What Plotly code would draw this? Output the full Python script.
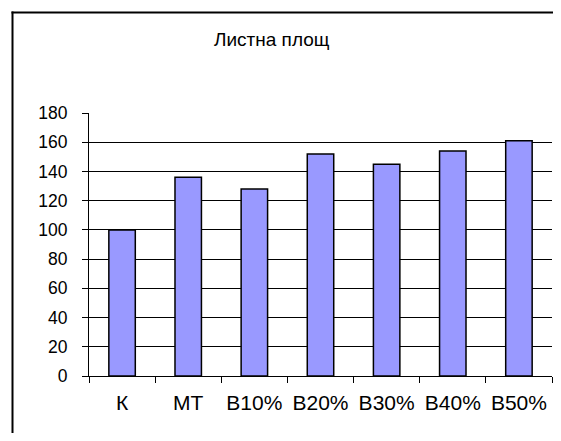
import plotly.graph_objects as go

categories = ["К", "МТ", "В10%", "В20%", "В30%", "В40%", "В50%"]
values = [100, 136, 128, 152, 145, 154, 161]
y_ticks = [0, 20, 40, 60, 80, 100, 120, 140, 160, 180]
title_text = "Листна площ"

# the page body has an 8px margin, so the figure is sized/offset to compensate
W, H = 545, 425
L, R, T, B = 81, 1, 105, 57
PW, PH = W - L - R, H - T - B

fam = "Liberation Sans, Arial, sans-serif"

fig = go.Figure(go.Bar(
    x=categories, y=values,
    marker=dict(color="#9999FF", line=dict(color="black", width=1.5)),
))

fx = lambda px: (px - L) / PW          # figure px -> paper x
fy = lambda py: (H - B - py) / PH      # figure px (from top) -> paper y

fig.update_layout(
    width=W, height=H,
    margin=dict(l=L, r=R, t=T, b=B),
    paper_bgcolor="white", plot_bgcolor="white",
    bargap=0.6,
    showlegend=False,
    font=dict(family=fam, size=17, color="black"),
    annotations=[dict(text=title_text, xref="paper", yref="paper",
                      x=fx(264), y=fy(31),
                      xanchor="center", yanchor="middle", showarrow=False,
                      font=dict(family=fam, size=19, color="black"))],
    shapes=[
        dict(type="line", xref="paper", yref="paper",
             x0=fx(3.5), x1=fx(W), y0=fy(4.5), y1=fy(4.5),
             line=dict(color="black", width=2)),
        dict(type="line", xref="paper", yref="paper",
             x0=fx(4.5), x1=fx(4.5), y0=fy(3.5), y1=fy(H),
             line=dict(color="black", width=2)),
    ],
)

fig.update_yaxes(range=[0, 180], tickvals=y_ticks, showgrid=True, gridcolor="black",
                 gridwidth=1, showline=True, linecolor="black", linewidth=1,
                 ticks="outside", ticklen=6, tickcolor="black", zeroline=False,
                 ticklabelstandoff=11, tickfont=dict(family=fam, size=17.5, color="black"))
fig.update_xaxes(showline=True, linecolor="black", linewidth=1, ticks="outside",
                 tickson="boundaries", ticklen=6, tickcolor="black",
                 ticklabelstandoff=8, tickfont=dict(family=fam, size=21, color="black"),
                 showgrid=False)

fig.write_html("out.html", config={"displayModeBar": False})
